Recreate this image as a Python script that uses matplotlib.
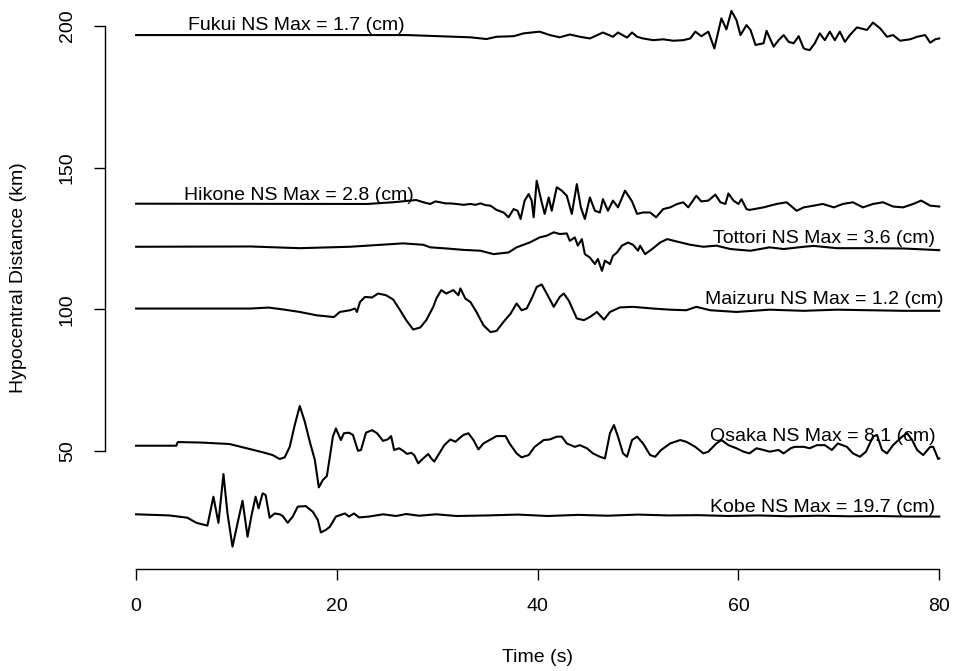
import numpy as np
import matplotlib.pyplot as plt

plt.rcParams['font.family'] = ['Liberation Sans', 'DejaVu Sans']

# hypocentral distance of each station (km) = baseline of its trace
stations = ['Kobe', 'Osaka', 'Maizuru', 'Tottori', 'Hikone', 'Fukui']
distances = [27.8, 51.9, 100.3, 122.1, 137.3, 196.8]
max_disp = [19.7, 8.1, 1.2, 3.6, 2.8, 1.7]

# NS displacement traces (time in s, offset in plot units)
kobe_t = [0, 3.3, 5.1, 6.0, 7.1, 7.7, 8.2, 8.7, 9.1, 9.6, 10.1, 10.6, 11.1, 11.5, 11.9,
          12.2, 12.6, 12.9, 13.3, 13.8, 14.3, 14.6, 15.1, 15.6, 16.1, 16.9, 17.6, 18.1,
          18.4, 18.9, 19.3, 19.9, 20.8, 21.2, 21.7, 22.2, 23.2, 24.6, 25.9, 26.9, 28.2,
          29.9, 31.9, 35, 38, 41, 44, 47, 50, 53, 56, 59, 62, 65, 68, 71, 74, 77, 80]
kobe_a = [-0.1, -0.5, -1.3, -3.1, -4.1, 6.1, -3.1, 14.1, 0.2, -11.5, -3.3, 4.7, -8.0, -0.4,
          6.1, 2.0, 7.3, 6.7, -1.3, 0.2, -0.1, -0.7, -3.1, -0.9, 2.6, 2.8, 0.8, -2.1,
          -6.5, -5.6, -4.5, -0.9, 0.2, -0.9, 0.2, -1.2, -0.9, -0.1, -0.7, 0.0, -0.6,
          -0.1, -0.7, -0.5, -0.2, -0.7, -0.3, -0.6, -0.2, -0.5, -0.4, -0.7, -0.5, -0.8,
          -0.6, -0.8, -0.7, -0.9, -0.9]

osaka_t = [0, 4.0, 4.15, 6.6, 9.3, 11.0, 12.6, 13.6, 14.3, 14.8, 15.3, 15.8, 16.3, 16.8,
           17.3, 17.8, 18.2, 18.6, 19.0, 19.3, 19.6, 19.9, 20.1, 20.4, 20.7, 21.2, 21.6,
           22.1, 22.4, 22.9, 23.5, 24.0, 24.6, 25.1, 25.4, 25.7, 26.2, 26.6, 27.0, 27.4,
           27.7, 28.1, 28.5, 29.1, 29.4, 29.7, 30.2, 30.7, 31.3, 31.8, 32.6, 33.1, 33.6,
           34.1, 34.6, 35.3, 35.9, 36.8, 37.2, 37.9, 38.4, 39.1, 39.7, 40.6, 41.2, 41.9,
           42.4, 42.9, 43.7, 44.2, 44.9, 45.5, 46.2, 46.7, 47.2, 47.6, 48.0, 48.5, 48.9,
           49.4, 49.9, 50.5, 51.2, 51.7, 52.3, 53.2, 54.2, 54.8, 55.7, 56.5, 57.0, 57.8,
           58.3, 59.0, 59.8, 60.5, 61.1, 61.8, 62.5, 63.1, 64.0, 64.5, 65.2, 65.6, 66.5,
           67.1, 67.8, 68.6, 69.3, 69.9, 70.8, 71.4, 72.1, 72.7, 73.4, 73.8, 74.3, 74.8,
           75.4, 76.3, 76.8, 77.3, 77.8, 78.4, 79.1, 79.4, 79.9, 80.0]
osaka_a = [0, 0, 1.3, 1.1, 0.6, -0.9, -2.3, -3.3, -4.7, -4.1, -0.4, 7.3, 14.0, 8.5,
           1.4, -5.0, -14.7, -12.1, -10.7, -3.9, 3.2, 6.1, 4.4, 2.0, 4.4, 4.6, 3.8,
           -1.8, -1.5, 4.6, 5.5, 4.4, 1.7, 2.3, 3.4, -1.5, -0.9, -1.8, -2.9, -2.5,
           -3.3, -6.2, -4.8, -2.9, -4.5, -5.6, -2.7, 0.2, 2.2, 1.4, 3.8, 4.4, 2.0,
           -1.3, 0.8, 2.2, 3.4, 3.4, 0.8, -2.7, -4.1, -3.3, -0.4, 2.0, 2.2, 3.2,
           3.2, 0.8, -0.4, 0.2, -0.9, -2.7, -3.9, -4.5, 4.4, 7.3, 3.2, -2.7, -3.9,
           2.0, 3.2, 0.8, -3.3, -3.9, -1.5, 0.8, 2.0, 1.4, -0.4, -2.7, -2.1, 0.8,
           2.0, 0.2, -0.9, -2.1, -2.7, -0.9, -1.5, -2.1, -1.5, -2.7, -0.9, -0.4, -0.4,
           -0.9, 0.2, 0.2, -1.5, 0.8, -0.4, -2.7, -3.9, -2.1, 3.2, 3.8, -1.5, -2.7,
           0.2, 3.2, 4.4, 2.0, -1.5, -3.3, -0.4, -0.4, -4.7, -4.5]

maizuru_t = [0, 11.4, 13.2, 14.7, 16.3, 18.0, 19.7, 20.3, 21.3, 21.8, 22.0, 22.3, 22.8,
             23.5, 24.1, 24.9, 25.6, 26.3, 26.9, 27.6, 28.3, 28.9, 29.6, 29.9, 30.4,
             30.9, 31.6, 32.1, 32.3, 32.8, 33.3, 33.9, 34.6, 35.3, 35.9, 36.6, 37.3,
             37.9, 38.4, 38.9, 39.4, 39.9, 40.4, 40.9, 41.6, 42.2, 42.6, 43.1, 43.9,
             44.6, 45.2, 45.9, 46.6, 47.2, 48.2, 49.5, 51.5, 53.2, 54.8, 55.8, 57.2,
             59.8, 63.1, 66.5, 69.8, 73.1, 76.4, 80.0]
maizuru_a = [0, 0.0, 0.35, -0.35, -1.2, -2.4, -3.0, -1.2, -0.6, 0, -1.2, 2.3, 4.1,
             3.9, 5.3, 4.7, 3.2, -0.6, -4.1, -7.4, -6.7, -4.1, 0.6, 3.5, 6.5,
             5.3, 6.5, 4.7, 7.1, 3.5, 2.3, -1.2, -5.9, -8.3, -7.9, -4.7, -1.8,
             1.8, -0.6, 0, 3.5, 7.6, 8.5, 5.3, 0.6, 4.1, 5.3, 2.8, -3.5,
             -4.1, -3.0, -1.2, -3.9, -1.2, 0.4, 0.6, 0, -0.4, -0.6, 0.6, -0.6,
             -1.2, -0.4, -0.8, -0.4, -0.6, -0.8, -0.8]

tottori_t = [0, 11.4, 16.3, 21.3, 26.6, 28.6, 29.3, 30.9, 32.6, 34.3, 35.6, 37.1, 37.9,
             39.2, 40.2, 40.9, 41.6, 42.2, 42.9, 43.2, 43.7, 44.0, 44.4, 44.7, 45.2,
             45.7, 46.0, 46.4, 46.7, 47.2, 47.5, 47.9, 48.4, 49.0, 49.5, 50.0, 50.2,
             50.7, 51.4, 52.2, 52.9, 53.8, 55.2, 56.5, 57.8, 59.2, 60.5, 61.2, 63.1,
             64.5, 66.5, 67.5, 69.8, 73.1, 76.4, 80.0]
tottori_a = [0, 0.1, -0.5, 0, 1.2, 0.7, -0.2, -0.6, -1.1, -1.4, -2.6, -2.0, -0.2,
             1.5, 3.3, 3.9, 5.1, 4.5, 4.7, 2.1, 3.3, 0.4, 2.7, -2.6, -3.8,
             -6.1, -4.3, -8.5, -4.9, -6.1, -3.2, -2.0, 0.4, 1.5, 0.7, -1.4, 0.4,
             -2.6, -0.8, 1.5, 2.7, 1.9, 0.7, 0, 0.4, -0.8, -1.2, -1.4, -0.2,
             -0.8, 0, 0.3, -0.5, -0.5, -0.6, -1.2]

hikone_t = [0, 23.0, 25.6, 27.9, 28.6, 29.3, 29.8, 30.3, 30.8, 31.3, 31.9, 32.6, 33.3,
            33.8, 34.3, 34.8, 35.3, 35.9, 36.6, 37.1, 37.6, 38.0, 38.3, 38.7, 39.1,
            39.4, 39.6, 39.9, 40.4, 40.7, 41.1, 41.4, 41.9, 42.4, 42.9, 43.4, 43.9,
            44.3, 44.7, 45.2, 45.7, 46.2, 46.5, 47.0, 47.5, 48.0, 48.7, 49.4, 49.9,
            50.5, 51.2, 51.8, 52.5, 53.2, 53.9, 54.5, 55.0, 55.8, 56.3, 57.0, 57.7,
            58.2, 58.7, 59.0, 59.5, 60.0, 60.3, 60.8, 61.1, 62.5, 63.8, 64.8, 65.8,
            66.5, 67.5, 68.4, 69.5, 70.4, 71.4, 72.4, 73.4, 74.4, 75.4, 76.4, 77.4,
            78.2, 79.1, 80.0]
hikone_a = [0, -0.1, 0.5, 1.3, 0.5, -0.1, 0.8, 0.5, 0.1, 0.1, -0.1, -0.4, -0.1,
            -0.4, 0.1, -0.5, -0.7, -2.2, -3.1, -4.8, -1.9, -2.5, -5.4, 1.1, 3.4,
            1.1, -4.8, 8.1, 0.5, -3.6, 2.2, -2.5, 5.8, 4.6, 2.8, -3.6, 6.9,
            -1.3, -5.4, 2.2, -2.5, -3.1, 1.6, -2.5, 1.1, -1.3, 4.6, 0.8, -3.6,
            -3.1, -3.1, -4.8, -1.9, -1.3, -0.1, 0.5, -1.3, 2.8, 0.8, 1.1, 3.2,
            0.5, -0.1, 3.6, 1.1, -0.1, 1.6, -1.9, -2.2, -1.3, -0.1, 0.5, -2.5,
            -1.3, -0.7, -0.1, -1.3, -0.1, 0.5, -1.3, -0.1, 0.5, -1.0, -1.3, -0.1,
            1.1, -0.7, -1.0]

fukui_t = [0, 27.0, 33.3, 34.9, 35.9, 37.6, 38.6, 40.2, 41.2, 42.2, 43.2, 44.2, 45.2,
           46.5, 47.5, 48.0, 48.9, 49.4, 49.9, 50.5, 51.5, 52.5, 53.5, 54.5, 55.2,
           55.7, 56.3, 57.0, 57.6, 58.3, 58.8, 59.3, 59.8, 60.2, 60.8, 61.2, 61.7,
           62.5, 62.8, 63.5, 64.0, 64.5, 65.0, 65.5, 66.0, 66.5, 66.8, 67.1, 67.6,
           68.1, 68.6, 69.1, 69.6, 70.1, 70.6, 71.1, 71.8, 72.8, 73.4, 74.1, 74.8,
           75.4, 76.1, 77.1, 77.8, 78.6, 79.1, 79.6, 80.0]
fukui_a = [0, 0, -0.8, -1.4, -0.6, -0.4, 0.6, 1.2, 0, -0.8, 0.2, -0.6, -1.2,
           0.9, -0.6, 0.9, -0.9, 0.9, -0.6, -1.2, -1.8, -1.5, -2.0, -1.8, -1.2,
           1.2, -0.4, 1.2, -4.7, 5.9, 2.0, 8.5, 5.3, 0, 3.5, 1.8, -3.5,
           -2.9, 1.5, -4.1, -1.8, 0, -2.4, -2.9, -0.4, -4.7, -5.1, -5.3, -2.9,
           0.6, -1.8, 1.2, -1.8, 1.2, -2.4, 0, 2.7, 1.8, 4.4, 2.4, -0.6,
           0, -2.0, -1.5, -0.6, 0, -2.7, -1.5, -1.2]

traces = {
    'Kobe': (kobe_t, kobe_a),
    'Osaka': (osaka_t, osaka_a),
    'Maizuru': (maizuru_t, maizuru_a),
    'Tottori': (tottori_t, tottori_a),
    'Hikone': (hikone_t, hikone_a),
    'Fukui': (fukui_t, fukui_a),
}

# label placement: (x, offset above trace, horizontal alignment)
label_pos = {
    'Kobe': (79.6, 0.8, 'right'),
    'Osaka': (79.6, 1.5, 'right'),
    'Maizuru': (80.4, 1.7, 'right'),
    'Tottori': (79.6, 1.5, 'right'),
    'Hikone': (16.2, 1.3, 'center'),
    'Fukui': (16.0, 1.7, 'center'),
}

W, H = 956, 671
fig = plt.figure(figsize=(W / 100, H / 100), dpi=100)
ax = fig.add_axes([105 / W, 102 / H, 1 - 105 / W, 569 / H])

for name, dist, mx in zip(stations, distances, max_disp):
    t, a = traces[name]
    ax.plot(t, dist + np.array(a), color='black', lw=1.5, solid_joinstyle='round')
    x, dy, ha = label_pos[name]
    ax.text(x, dist + dy, f'{name} NS Max = {mx} (cm)', ha=ha, va='baseline',
            fontsize=14)

ax.set_xlim(-3.1, 81.67)
ax.set_ylim(8.4, 209.17)
for s in ['top', 'right']:
    ax.spines[s].set_visible(False)
ax.spines['left'].set_bounds(50, 200)
ax.spines['bottom'].set_bounds(0, 80)
for s in ['left', 'bottom']:
    ax.spines[s].set_linewidth(1.0)

ax.set_xticks([0, 20, 40, 60, 80])
ax.set_yticks([50, 100, 150, 200])
ax.tick_params(length=8, width=1.0, pad=13, labelsize=14)
for lab in ax.get_yticklabels():
    lab.set_rotation(90)
    lab.set_va('center')

fig.text(537 / W, 1 - 657 / H, 'Time (s)', ha='center', va='center', fontsize=14)
fig.text(19 / W, 1 - 278 / H, 'Hypocentral Distance (km)', ha='center', va='center',
         rotation=90, fontsize=14)

fig.savefig('out.png', dpi=100)
